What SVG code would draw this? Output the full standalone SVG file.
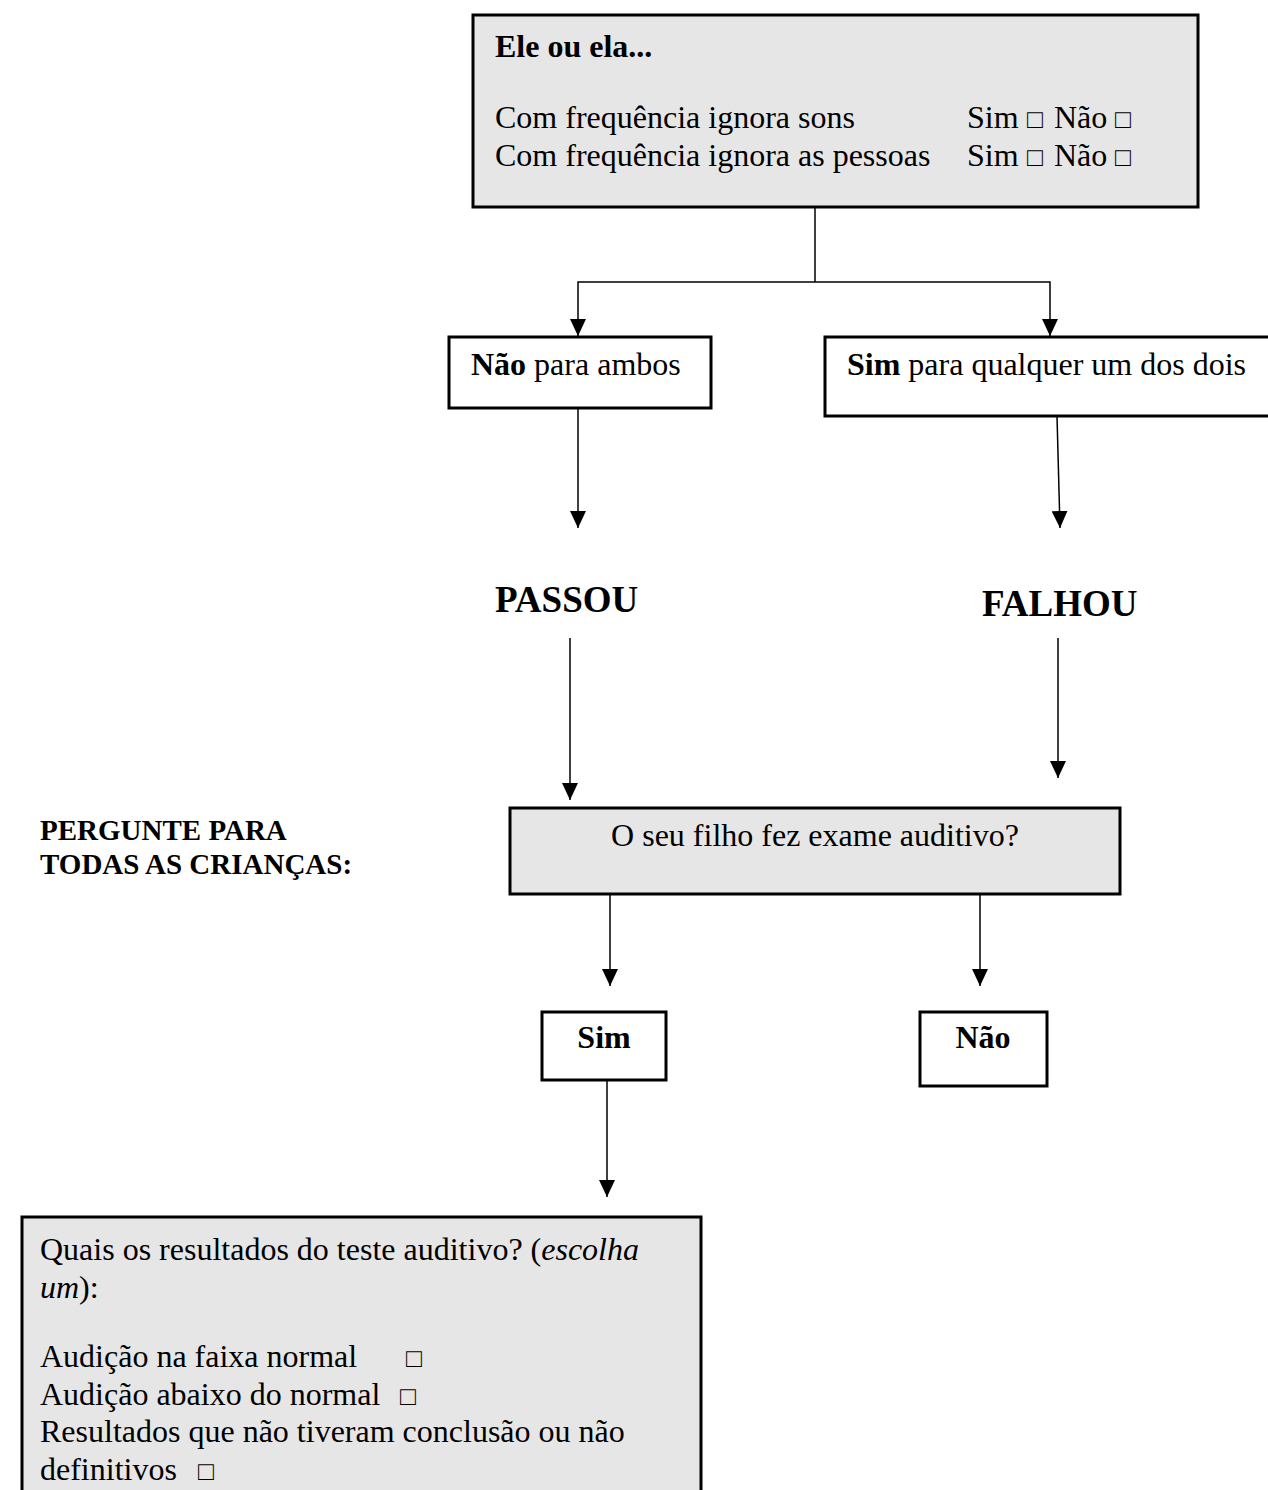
<svg xmlns="http://www.w3.org/2000/svg" width="1268" height="1490" viewBox="0 0 1268 1490">
<style>
text{font-family:"Liberation Serif","Times New Roman",serif;fill:#000;font-size:32px}
.b{font-weight:bold}
.big{font-size:37px;font-weight:bold}
.side{font-size:29px;font-weight:bold}
.gray{fill:#e6e6e6;stroke:#000;stroke-width:3}
.white{fill:#fff;stroke:#000;stroke-width:3}
.con line,.con polyline{stroke:#000;stroke-width:1.5;fill:none}
.cb{font-size:26px}
</style>
<defs>
<marker id="ad" markerUnits="userSpaceOnUse" markerWidth="17" markerHeight="16" refX="17" refY="8" orient="auto-start-reverse" viewBox="0 0 17 16">
<path d="M0,0 L17,8 L0,16 Z" fill="#000"/>
</marker>
</defs>

<g id="connectors" class="con">
<line x1="815" y1="207" x2="815" y2="282"/>
<polyline points="578,336 578,282 1050,282 1050,336" marker-start="url(#ad)" marker-end="url(#ad)"/>
<line x1="578" y1="408" x2="578" y2="528" marker-end="url(#ad)"/>
<line x1="1057" y1="416" x2="1060" y2="528" marker-end="url(#ad)"/>
<line x1="570" y1="638" x2="570" y2="800" marker-end="url(#ad)"/>
<line x1="1058" y1="638" x2="1058" y2="778" marker-end="url(#ad)"/>
<line x1="610" y1="894" x2="610" y2="986" marker-end="url(#ad)"/>
<line x1="980" y1="894" x2="980" y2="986" marker-end="url(#ad)"/>
<line x1="607" y1="1080" x2="607" y2="1197" marker-end="url(#ad)"/>
</g>

<g id="node-ele">
<rect class="gray" x="473" y="15" width="725" height="192"/>
<text class="b" x="495" y="57">Ele ou ela...</text>
<text x="495" y="128">Com frequência ignora sons</text>
<text x="967" y="128">Sim<tspan class="cb" x="1027">□</tspan><tspan x="1054">Não</tspan><tspan class="cb" x="1115">□</tspan></text>
<text x="495" y="166">Com frequência ignora as pessoas</text>
<text x="967" y="166">Sim<tspan class="cb" x="1027">□</tspan><tspan x="1054">Não</tspan><tspan class="cb" x="1115">□</tspan></text>
</g>

<g id="node-nao-ambos">
<rect class="white" x="449" y="337" width="262" height="71"/>
<text x="471" y="375"><tspan class="b">Não</tspan> para ambos</text>
</g>

<g id="node-sim-qualquer">
<rect class="white" x="825" y="337" width="450" height="79"/>
<text x="847" y="375"><tspan class="b">Sim</tspan> para qualquer um dos dois</text>
</g>

<g id="node-passou">
<text class="big" x="495" y="612">PASSOU</text>
</g>
<g id="node-falhou">
<text class="big" x="982" y="616">FALHOU</text>
</g>

<g id="node-pergunte">
<text class="side" x="40" y="840">PERGUNTE PARA</text>
<text class="side" x="40" y="874">TODAS AS CRIANÇAS:</text>
</g>

<g id="node-exame">
<rect class="gray" x="510" y="808" width="610" height="86"/>
<text x="815" y="846" text-anchor="middle">O seu filho fez exame auditivo?</text>
</g>

<g id="node-sim">
<rect class="white" x="542" y="1012" width="124" height="68"/>
<text class="b" x="604" y="1048" text-anchor="middle">Sim</text>
</g>

<g id="node-nao">
<rect class="white" x="920" y="1012" width="127" height="74"/>
<text class="b" x="983" y="1048" text-anchor="middle">Não</text>
</g>

<g id="node-resultados">
<rect class="gray" x="22" y="1217" width="679" height="290"/>
<text x="40" y="1260">Quais os resultados do teste auditivo? (<tspan font-style="italic">escolha</tspan></text>
<text x="40" y="1298"><tspan font-style="italic">um</tspan>):</text>
<text x="40" y="1367">Audição na faixa normal</text>
<text class="cb" x="406" y="1367">□</text>
<text x="40" y="1405">Audição abaixo do normal</text>
<text class="cb" x="400" y="1405">□</text>
<text x="40" y="1442">Resultados que não tiveram conclusão ou não</text>
<text x="40" y="1480">definitivos</text>
<text class="cb" x="198" y="1480">□</text>
</g>
</svg>
